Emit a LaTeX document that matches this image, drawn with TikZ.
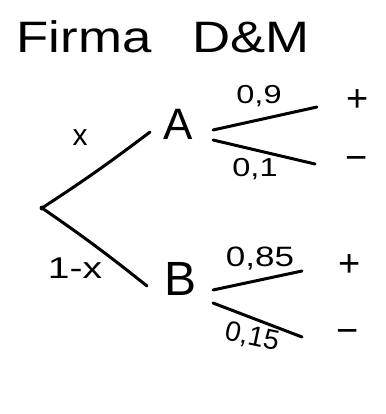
\documentclass[tikz,border=0pt]{standalone}
\usepackage{fontspec}
\setmainfont{Liberation Sans}
\begin{document}
\begin{tikzpicture}[x=1pt,y=-1pt,
  br/.style={line width=3pt,line cap=round},
  lbl/.style={inner sep=0pt},
  title/.style={lbl,font=\fontsize{44}{44}\selectfont,xscale=1.2},
  big/.style={lbl,font=\fontsize{44}{44}\selectfont},
  prob/.style={lbl,font=\fontsize{26}{26}\selectfont,xscale=1.25},
  rprob/.style={lbl,font=\fontsize{28}{28}\selectfont},
  sign/.style={lbl,font=\fontsize{38}{38}\selectfont}]
\useasboundingbox (0,0) rectangle (385,414);
\node[title] (t1) at (84,37) {Firma};
\node[title] (t2) at (251,37) {D\&M};
% tree
\coordinate (r) at (42,208);
\coordinate (ra) at (150,132);
\coordinate (rb) at (147,286);
\node[big] (A) at (178,124) {A};
\node[big,font=\fontsize{48}{48}\selectfont] (B) at (181,279) {B};
\fill (r) circle (2.4pt);
\draw[br] (r) to[bend right=2] (ra);
\draw[br] (r) to[bend left=2] (rb);
\node[lbl,font=\fontsize{30}{30}\selectfont] (lx) at (80,138) {x};
\node[lbl,font=\fontsize{30}{30}\selectfont,xscale=1.3] (l1x) at (75,268) {1-x};
% branches of A
\coordinate (a1s) at (213,130);
\coordinate (a1e) at (317,107);
\coordinate (a2s) at (213,140);
\coordinate (a2e) at (315,164);
\draw[br] (a1s) -- (a1e);
\draw[br] (a2s) -- (a2e);
\node[prob] (p09) at (259,96) {0,9};
\node[prob] (p01) at (255,169) {0,1};
\node[sign] (ap) at (358,101) {+};
\node[sign] (am) at (357,164) {−};
% branches of B
\coordinate (b1s) at (213,290);
\coordinate (b1e) at (302,271);
\coordinate (b2s) at (213,303);
\coordinate (b2e) at (302,337);
\draw[br] (b1s) -- (b1e);
\draw[br] (b2s) -- (b2e);
\node[prob,font=\fontsize{28}{28}\selectfont] (p085) at (260,259) {0,85};
\node[rprob,rotate=-12] (p015) at (252,337) {0,15};
\node[sign] (bp) at (350,266) {+};
\node[sign] (bm) at (348,337) {−};
\end{tikzpicture}
\end{document}
